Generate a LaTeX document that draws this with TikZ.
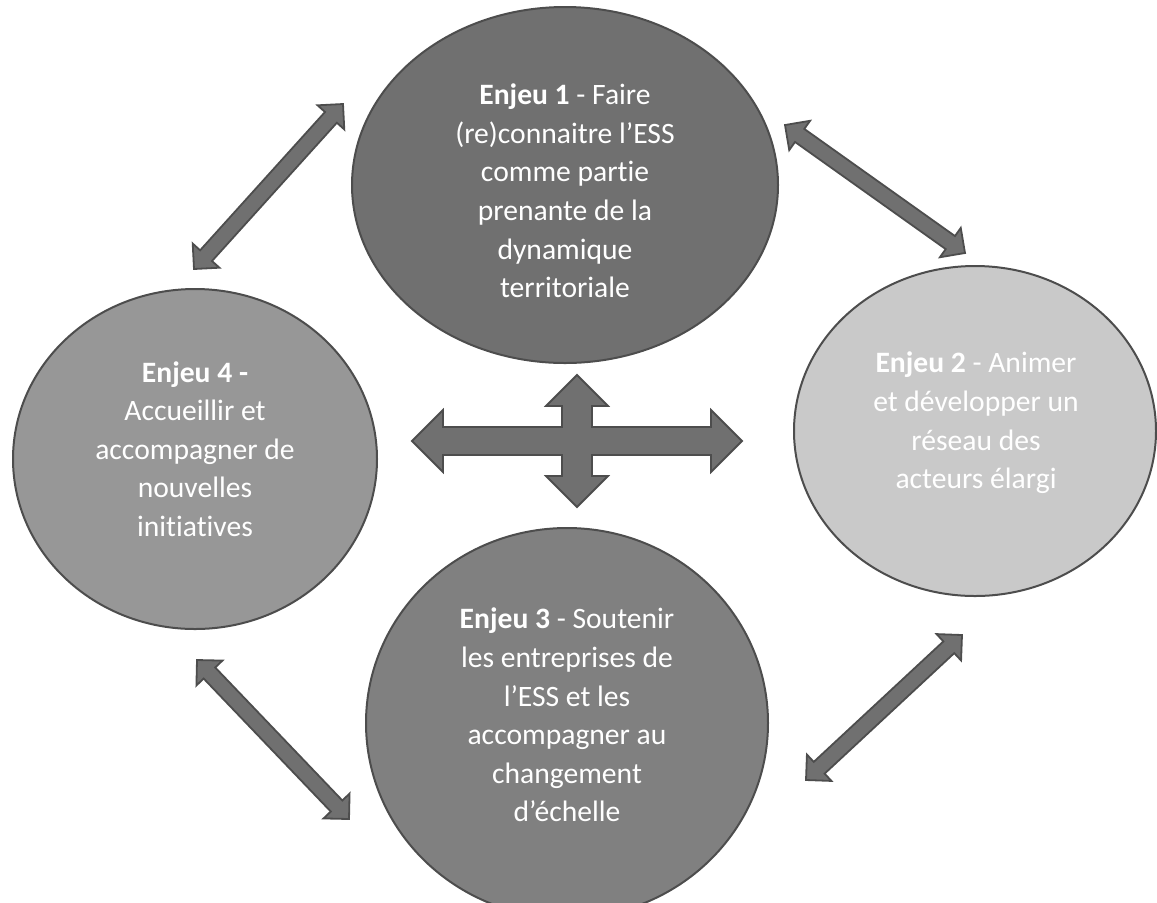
\documentclass[tikz,border=0pt]{standalone}
\usepackage{fontspec}
\setmainfont{Carlito}[Ligatures=NoCommon]
\usepackage{tikz}
\usetikzlibrary{positioning,shapes.geometric,calc}
\definecolor{enjeudark}{HTML}{707070}
\definecolor{enjeumid}{HTML}{808080}
\definecolor{enjeusoft}{HTML}{979797}
\definecolor{enjeulight}{HTML}{C9C9C9}
\definecolor{rim}{HTML}{4D4D4D}
\tikzset{
  enjeu/.style={ellipse,draw=rim,line width=1pt,inner sep=0pt},
  enjeutext/.style={align=center,text=white,
            font=\fontsize{14.8}{19.3}\selectfont},
  blockarrow/.style={fill=enjeudark,draw=rim,line width=0.9pt,line join=miter},
}
% two-headed block arrow between two coordinates
\newcommand{\dblarrow}[2]{%
  \draw[blockarrow] (#1)
    -- ($(#1)!9pt!(#2)!9pt!90:(#2)$)
    -- ($(#1)!9pt!(#2)!4pt!90:(#2)$)
    -- ($(#2)!9pt!(#1)!4pt!-90:(#1)$)
    -- ($(#2)!9pt!(#1)!9pt!-90:(#1)$)
    -- (#2)
    -- ($(#2)!9pt!(#1)!9pt!90:(#1)$)
    -- ($(#2)!9pt!(#1)!4pt!90:(#1)$)
    -- ($(#1)!9pt!(#2)!4pt!-90:(#2)$)
    -- ($(#1)!9pt!(#2)!9pt!-90:(#2)$)
    -- cycle;}

\begin{document}
\begin{tikzpicture}[x=0.5pt,y=-0.5pt]
  \useasboundingbox (0,0) rectangle (1157,902);
  % the four ellipses
  \node[enjeu,fill=enjeudark,minimum width=213pt,minimum height=178pt] (e1) at (565,185) {};
  \node[enjeu,fill=enjeulight,minimum width=181pt,minimum height=165pt] (e2) at (975,431) {};
  \node[enjeu,fill=enjeumid,minimum width=201pt,minimum height=195pt] (e3) at (567,723) {};
  \node[enjeu,fill=enjeusoft,minimum width=182pt,minimum height=170pt] (e4) at (195,459) {};
  \node[enjeutext] (t1) at (565,191) {\textbf{Enjeu 1} - Faire\\(re)connaitre l’ESS\\comme partie\\prenante de la\\dynamique\\territoriale};
  \node[enjeutext] (t2) at (976,423) {\textbf{Enjeu 2} - Animer\\et développer un\\réseau des\\acteurs élargi};
  \node[enjeutext] (t3) at (567,715) {\textbf{Enjeu 3} - Soutenir\\les entreprises de\\l’ESS et les\\accompagner au\\changement\\d’échelle};
  \node[enjeutext] (t4) at (195,449) {\textbf{Enjeu 4 -}\\Accueillir et\\accompagner de\\nouvelles\\initiatives};
  % arrow ends
  \coordinate (d41) at (194,269);
  \coordinate (d14) at (343,104);
  \coordinate (d12) at (785,125);
  \coordinate (d21) at (965,253);
  \coordinate (d43) at (197,660);
  \coordinate (d34) at (349,819);
  \coordinate (d32) at (806,780);
  \coordinate (d23) at (962,635);
  \dblarrow{d41}{d14}
  \dblarrow{d12}{d21}
  \dblarrow{d43}{d34}
  \dblarrow{d32}{d23}
  % four-way arrow in the middle
  \coordinate (hub) at (577,441);
  \draw[blockarrow,shift={(hub)}] (165,0) -- (134,-31) -- (134,-14) -- (15,-14)
    -- (15,-35) -- (31,-35) -- (0,-66) -- (-31,-35) -- (-15,-35) -- (-15,-14)
    -- (-134,-14) -- (-134,-31) -- (-165,0) -- (-134,31) -- (-134,14) -- (-15,14)
    -- (-15,35) -- (-31,35) -- (0,66) -- (31,35) -- (15,35) -- (15,14)
    -- (134,14) -- (134,31) -- cycle;
\end{tikzpicture}
\end{document}
